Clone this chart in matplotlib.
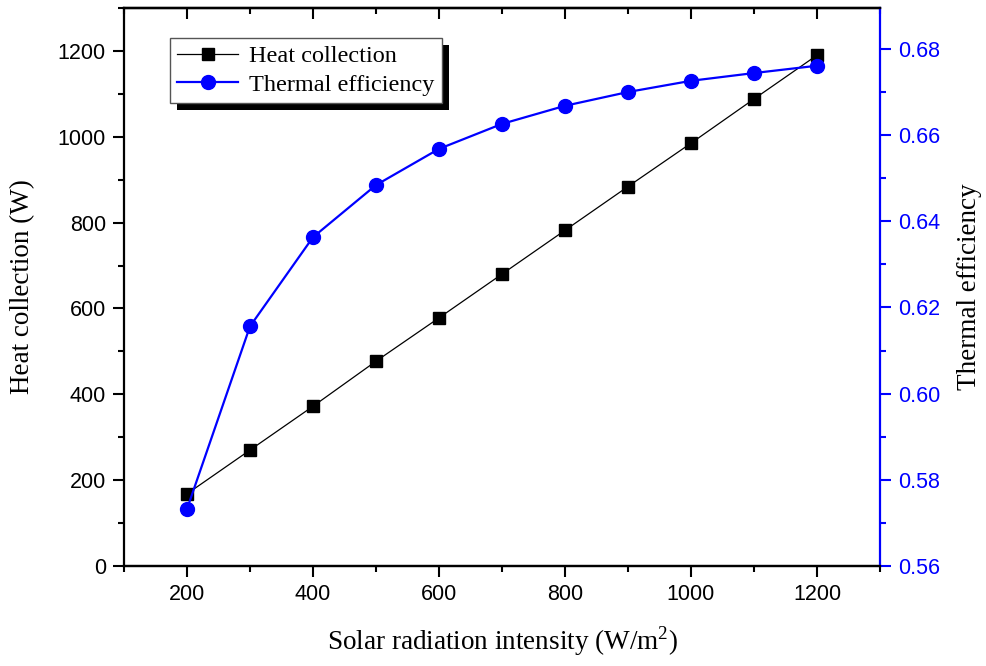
import numpy as np
import matplotlib
matplotlib.use("Agg")
import matplotlib.pyplot as plt
from matplotlib.patches import Rectangle
from matplotlib.ticker import MultipleLocator

# Collector test results
radiation = [200, 300, 400, 500, 600, 700, 800, 900, 1000, 1100, 1200]
heat_collection = [168, 270, 372, 477, 578, 680, 782, 884, 985, 1088, 1190]
thermal_eff = [0.5732, 0.6156, 0.6363, 0.6484, 0.6568, 0.6626, 0.6668,
               0.6700, 0.6726, 0.6744, 0.6761]

serif = "Liberation Serif"
sans = "Liberation Sans"

fig = plt.figure(figsize=(9.87, 6.66), dpi=100)
ax = fig.add_axes([0.1256, 0.1502, 0.766, 0.8378])
ax2 = ax.twinx()

l1, = ax.plot(radiation, heat_collection, color="black", lw=0.9,
              marker="s", markersize=9, label="Heat collection", zorder=3)
l2, = ax2.plot(radiation, thermal_eff, color="blue", lw=1.6,
               marker="o", markersize=10, label="Thermal efficiency", zorder=3)

ax.set_xlim(100, 1300)
ax.set_ylim(0, 1300)
ax2.set_ylim(0.56, 0.6895)

ax.xaxis.set_major_locator(MultipleLocator(200))
ax.xaxis.set_minor_locator(MultipleLocator(100))
ax.yaxis.set_major_locator(MultipleLocator(200))
ax.yaxis.set_minor_locator(MultipleLocator(100))
ax2.yaxis.set_major_locator(MultipleLocator(0.02))
ax2.yaxis.set_minor_locator(MultipleLocator(0.01))

for a in (ax, ax2):
    for s in a.spines.values():
        s.set_linewidth(1.6)
ax.spines["right"].set_visible(False)
ax2.spines["left"].set_visible(False)
ax2.spines["right"].set_color("blue")

ax.tick_params(which="major", direction="out", length=8, width=1.5,
               labelsize=15.5, pad=5)
ax.tick_params(which="minor", direction="out", length=4, width=1.5)
ax.tick_params(axis="y", right=False, which="both")
ax2.tick_params(axis="y", which="major", direction="out", length=8, width=1.5,
                colors="blue", labelsize=15.5, pad=5)
ax2.tick_params(axis="y", which="minor", direction="out", length=4, width=1.5,
                colors="blue")
ax2.yaxis.set_major_formatter(plt.FuncFormatter(lambda v, p: f"{v:.2f}"))

for lab in ax.get_xticklabels() + ax.get_yticklabels() + ax2.get_yticklabels():
    lab.set_fontfamily(sans)

# inward ticks along the top edge
top = ax.secondary_xaxis("top")
top.xaxis.set_major_locator(MultipleLocator(200))
top.xaxis.set_minor_locator(MultipleLocator(100))
top.tick_params(which="major", direction="in", length=8, width=1.5, labeltop=False)
top.tick_params(which="minor", direction="in", length=4, width=1.5)
top.spines["top"].set_linewidth(1.6)

ax.set_xlabel("Solar radiation intensity (W/m$^{\\mathregular{2}}$)",
              fontfamily=serif, fontsize=19.5, labelpad=14)
ax.set_ylabel("Heat collection (W)", fontfamily=serif, fontsize=19.5, labelpad=16)
ax2.set_ylabel("Thermal efficiency", fontfamily=serif, fontsize=19.5, labelpad=12)

leg = ax2.legend(handles=[l1, l2], loc="upper left",
                 bbox_to_anchor=(0.061, 0.946), fancybox=False,
                 edgecolor="#555555", framealpha=1, handlelength=2.5,
                 borderpad=0.3, labelspacing=0.25, handletextpad=0.45,
                 borderaxespad=0,
                 prop={"family": serif, "size": 17.5})
leg.get_frame().set_linewidth(1.0)
leg.set_zorder(5)

# solid black drop shadow behind the legend box
fig.canvas.draw()
bb = leg.get_window_extent()
ax2.add_patch(Rectangle((bb.x0 + 7, bb.y0 - 7), bb.width, bb.height,
                        transform=None, facecolor="black", edgecolor="none",
                        clip_on=False, zorder=4.9))

fig.savefig("out.png", dpi=100)
